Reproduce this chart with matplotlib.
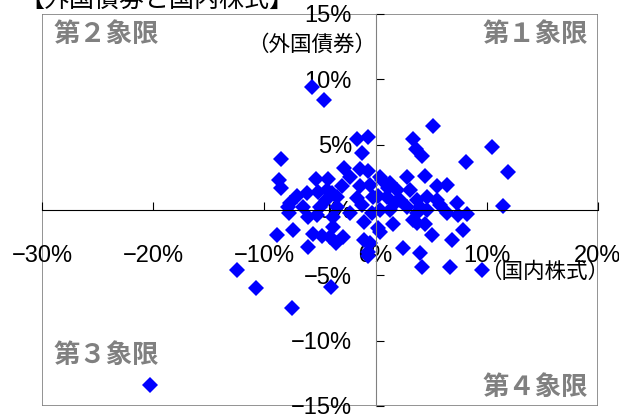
import numpy as np
import matplotlib.pyplot as plt
from matplotlib.patches import Rectangle

plt.rcParams['font.family'] = ['Noto Sans CJK JP', 'DejaVu Sans']

title = "【外国債券と国内株式】"
x_label = "（国内株式）"
y_label = "（外国債券）"
q_labels = ["第１象限", "第２象限", "第３象限", "第４象限"]

# 国内株式 (%)
stock = [-5.7, -4.6, -20.3, -12.5, -10.8, -7.5, -4.0, 9.6, 11.9, 10.5,
         11.5, 5.2, -8.5, -8.7, -8.5, -1.7, -0.7, -1.2, -5.4, -4.3,
         -2.8, -2.3, -1.4, -0.7, -7.1, -7.7, -6.2, -5.2, -4.4, -3.5,
         -3.0, -1.4, -0.5, -7.9, -6.5, -5.0, -3.5, -1.7, -0.2, -7.8,
         -6.1, -3.9, -4.5, -8.9, -7.4, -6.1, -5.6, -4.8, -4.1, -2.9,
         -3.6, -1.0, -1.0, -0.7, -0.7, -3.8, -5.3, -3.8, -0.5, 0.2,
         1.6, 0.4, 2.5, 4.0, 4.2, 5.1, 6.9, 7.9, 6.7, 3.4,
         3.6, 4.2, 8.1, 2.8, 4.4, 5.5, 6.4, 7.3, 7.4, 8.2,
         0.6, 1.3, 1.9, 3.1, 1.0, 2.2, 3.7, 4.6, 0.4, 1.3,
         2.8, 3.7, 4.6, 3.7, 4.4, 3.4, 4.0, 5.5, 0.4, 1.1,
         0.2, 1.7, 5.8, 6.4, -1.2, -0.3, -2.3]
# 外国債券 (%)
bond = [9.4, 8.4, -13.4, -4.6, -6.0, -7.5, -5.9, -4.6, 2.9, 4.8,
        0.3, 6.4, 3.9, 2.3, 1.7, 5.4, 5.6, 4.4, 2.4, 2.4,
        3.2, 2.5, 3.1, 3.0, 1.1, 0.5, 1.3, 1.4, 1.5, 1.0,
        1.8, 1.8, 1.9, 0.2, 0.2, 0.2, 0.2, 0.9, 1.0, -0.2,
        -0.5, 1.3, 0.8, -1.9, -1.5, -2.8, -1.8, -2.0, -2.1, -2.1,
        -2.5, -0.9, -2.3, -3.2, -3.5, -0.5, -0.4, -1.3, -2.5, -1.4,
        -1.1, -1.7, -2.9, -3.3, -4.4, -1.9, -2.3, -1.5, -4.4, 5.4,
        4.7, 4.1, 3.7, 2.5, 2.6, 1.8, 1.9, 0.5, -0.4, -0.3,
        2.3, 2.1, 1.5, 1.5, 1.0, 0.8, 0.8, 1.0, 0.0, 0.0,
        0.2, -0.2, 0.0, -1.0, -1.1, -0.8, 0.2, 0.8, 2.5, 1.7,
        1.1, 0.5, 0.4, -0.2, 0.4, -0.2, -0.2]

x_ticks = [-30, -20, -10, 0, 10, 20]
y_ticks = [-15, -10, -5, 0, 5, 10, 15]


def pct(v):
    return f"{v}%".replace("-", "\u2212")


fig = plt.figure(figsize=(6.19, 4.17), dpi=100)
ax = fig.add_axes([42 / 619, 11 / 417, 556 / 619, 392 / 417])

ax.plot(stock, bond, 'D', ls='none', color='#0000FF', ms=8.2, mew=0, zorder=2)

ax.set_xlim(-30, 20)
ax.set_ylim(-15, 15)

# axes crossing at zero
ax.spines['bottom'].set_position(('data', 0))
ax.spines['left'].set_position(('data', 0))
ax.spines['bottom'].set_color('black')
ax.spines['left'].set_color('#808080')
ax.spines['top'].set_visible(False)
ax.spines['right'].set_visible(False)
ax.add_patch(Rectangle((0, 0), 1, 1, transform=ax.transAxes, fill=False,
                       edgecolor='#808080', lw=1.2, zorder=1))

tick_font = ['Liberation Sans', 'DejaVu Sans']
ax.set_xticks(x_ticks)
ax.set_xticklabels([pct(v) for v in x_ticks], family=tick_font, fontsize=17)
ax.set_yticks(y_ticks)
ax.set_yticklabels([pct(v) for v in y_ticks], family=tick_font, fontsize=17)
ax.tick_params(axis='x', direction='in', length=6, pad=25, color='black')
ax.tick_params(axis='y', direction='in', length=6, pad=17, color='black')

# quadrant labels
qkw = dict(transform=ax.transAxes, fontsize=19, fontweight='bold', color='#808080', va='center')
ax.text(0.982, 0.949, q_labels[0], ha='right', **qkw)
ax.text(0.020, 0.949, q_labels[1], ha='left', **qkw)
ax.text(0.020, 0.130, q_labels[2], ha='left', **qkw)
ax.text(0.982, 0.046, q_labels[3], ha='right', **qkw)

ax.text(0.4856, 0.921, y_label, transform=ax.transAxes, ha='center', va='center', fontsize=15.5)
ax.text(0.9047, 0.342, x_label, transform=ax.transAxes, ha='center', va='center', fontsize=15.5)

fig.text(156.5 / 619, 1.0, title, ha='center', va='center', fontsize=18)

fig.savefig('out.png', dpi=100)
